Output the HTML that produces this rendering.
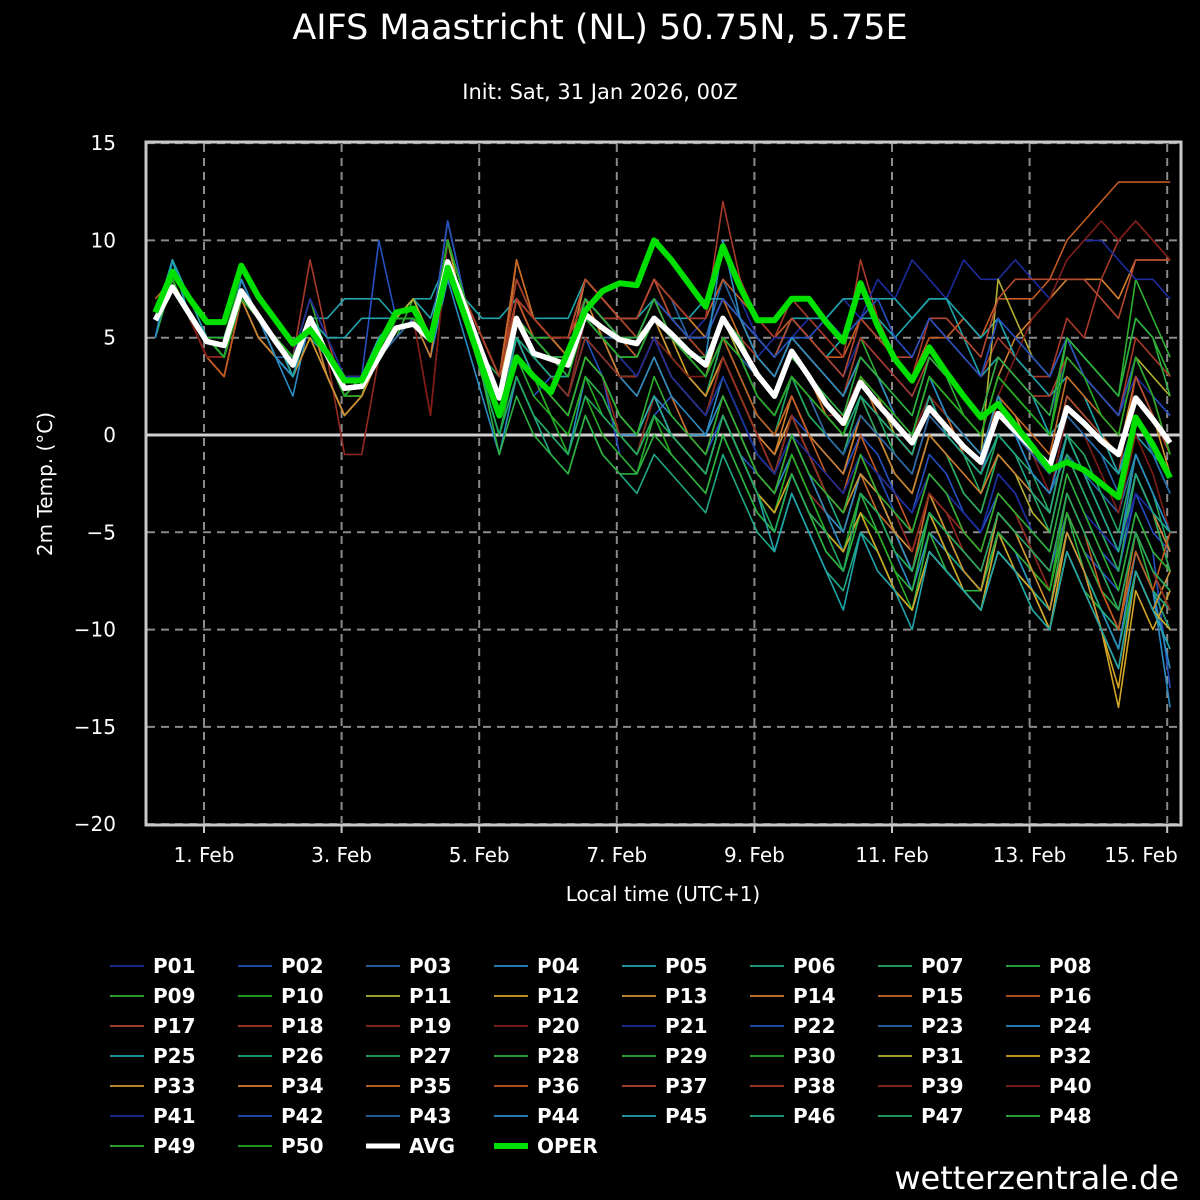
<!DOCTYPE html>
<html><head><meta charset="utf-8"><title>AIFS Maastricht</title>
<style>
html,body{margin:0;padding:0;background:#000;}
svg{display:block;font-family:"DejaVu Sans","Liberation Sans",sans-serif;}
</style></head>
<body>
<svg id="chart" width="1200" height="1200" viewBox="0 0 1200 1200" xmlns="http://www.w3.org/2000/svg">
<rect x="0" y="0" width="1200" height="1200" fill="#000"/>
<text x="600" y="39" text-anchor="middle" fill="#fff" font-size="35">AIFS Maastricht (NL) 50.75N, 5.75E</text>
<text x="600" y="99" text-anchor="middle" fill="#fff" font-size="21">Init: Sat, 31 Jan 2026, 00Z</text>
<g id="grid"></g>
<g id="series"></g>
<rect x="146" y="142" width="1035" height="683" fill="none" stroke="#c8c8c8" stroke-width="3"/>
<g id="axes"></g>
<text transform="translate(52,484) rotate(-90)" text-anchor="middle" fill="#fff" font-size="20">2m Temp. (°C)</text>
<text x="663" y="901" text-anchor="middle" fill="#fff" font-size="20">Local time (UTC+1)</text>
<g id="legend"></g>
<text x="1179" y="1189" text-anchor="end" fill="#fff" font-size="32">wetterzentrale.de</text>
</svg>
<script>
const yTicks=[15,10,5,0,-5,-10,-15,-20];
const xTickDays=[1,3,5,7,9,11,13,15];
const xTickLabels=["1. Feb","3. Feb","5. Feb","7. Feb","9. Feb","11. Feb","13. Feb","15. Feb"];
const stepHours=6;
const firstHourOffset=-17;
const avgValues=[5.9,7.6,6.2,4.8,4.6,7.4,6.1,4.8,3.6,6.0,4.1,2.4,2.5,4.0,5.5,5.7,4.9,8.9,6.6,4.2,1.9,6.0,4.2,3.9,3.6,6.2,5.5,4.9,4.7,6.0,5.2,4.3,3.6,6.0,4.6,3.1,2.0,4.3,3.0,1.6,0.6,2.7,1.6,0.6,-0.4,1.4,0.4,-0.6,-1.4,1.1,0.2,-0.7,-1.6,1.4,0.6,-0.3,-1.0,1.9,0.8,-0.4];
const operValues=[6.3,8.4,7.0,5.8,5.8,8.7,7.1,5.9,4.7,5.4,4.2,2.8,2.8,4.6,6.3,6.5,4.9,8.6,6.1,3.5,1.0,4.0,3.0,2.2,4.3,6.4,7.4,7.8,7.7,10.0,9.0,7.8,6.6,9.7,7.6,5.9,5.9,7.0,7.0,5.8,4.8,7.8,5.6,3.9,2.8,4.5,3.2,2.0,0.9,1.6,0.5,-0.6,-1.8,-1.4,-1.8,-2.5,-3.2,0.9,-0.5,-2.2];
const memberNames=["P01","P02","P03","P04","P05","P06","P07","P08","P09","P10","P11","P12","P13","P14","P15","P16","P17","P18","P19","P20","P21","P22","P23","P24","P25","P26","P27","P28","P29","P30","P31","P32","P33","P34","P35","P36","P37","P38","P39","P40","P41","P42","P43","P44","P45","P46","P47","P48","P49","P50"];
const memberValues=[
[5,8,6,4,4,7,5,4,3,6,4,2,2,5,6,6,4,9,6,3,1,5,4,3,3,7,6,6,5,7,6,5,6,8,7,5,4,6,5,4,3,5,4,3,2,4,3,2,1,4,3,2,1,4,3,2,1,3,2,1],
[6,9,6,5,5,8,6,5,4,6,4,3,3,5,6,6,5,10,6,3,0,4,2,3,2,5,3,-1,-2,1,2,0,-1,1,-1,-2,-3,0,-2,-3,-4,-1,-2,-4,-5,-2,-3,-4,-5,-3,-4,-6,-7,-4,-6,-7,-8,-4,-6,-13],
[6,9,6,5,4,8,6,4,4,7,5,3,3,4,5,6,5,10,7,4,2,7,5,5,4,8,7,6,6,8,7,5,5,8,6,4,3,5,4,3,2,4,3,1,0,2,0,-1,-2,0,-1,-2,-3,-1,-2,-3,-4,-1,-3,-5],
[5,9,6,5,4,7,6,4,2,6,3,1,2,4,5,6,4,8,5,2,-1,3,1,0,-1,3,2,0,0,2,1,0,0,2,0,-2,-3,-1,-3,-4,-6,-3,-4,-6,-8,-5,-6,-7,-8,-5,-6,-8,-10,-6,-8,-9,-11,-6,-8,-12],
[6,9,7,5,5,7,6,5,4,6,6,7,7,7,6,7,7,9,7,6,6,7,6,6,6,8,7,6,6,7,6,6,7,7,6,5,4,6,5,4,5,6,6,5,6,7,7,5,3,4,3,2,0,1,0,-1,-2,0,-1,-3],
[6,8,6,5,4,7,6,4,3,5,4,2,3,5,6,6,5,9,6,4,2,5,4,3,2,6,5,4,3,5,3,2,1,3,1,-1,-2,1,-1,-3,-5,-2,-3,-5,-7,-4,-6,-7,-8,-5,-7,-8,-9,-5,-7,-9,-10,-6,-8,-10],
[5,8,6,5,4,8,6,5,4,6,4,2,3,4,6,7,5,10,7,4,3,7,5,5,4,7,6,5,5,7,5,4,3,6,4,2,1,3,1,0,-1,2,1,-1,-2,1,0,-1,-3,0,-1,-2,-4,0,-1,-3,-5,-1,-3,-6],
[5,8,6,4,4,8,6,5,3,6,4,2,3,4,6,6,5,9,6,3,1,4,3,1,0,3,2,0,-1,2,0,-1,-2,1,-1,-3,-4,-1,-3,-5,-6,-3,-5,-7,-8,-4,-6,-8,-9,-5,-6,-8,-9,-4,-7,-9,-10,-5,-8,-9],
[6,8,6,5,5,8,6,5,4,7,4,2,3,4,5,7,5,9,6,4,2,5,4,4,3,6,5,5,5,7,6,5,5,7,6,4,3,5,4,3,2,5,3,2,1,4,3,1,0,3,2,1,0,5,4,3,2,8,6,4],
[6,8,6,5,4,7,5,4,3,6,4,2,2,4,6,6,5,9,6,3,1,4,3,1,-1,2,0,-1,-2,1,-1,-2,-3,0,-2,-4,-5,-2,-4,-6,-7,-4,-5,-7,-9,-6,-7,-8,-9,-6,-7,-9,-10,-6,-8,-9,-11,-7,-9,-10],
[6,8,6,5,5,7,6,5,4,6,4,2,3,5,6,6,5,10,6,4,2,6,5,4,4,7,6,5,4,6,4,3,2,5,3,1,0,2,0,-1,-2,1,0,-2,-3,0,-1,-3,-4,-1,-2,-4,-5,-1,-3,-5,-7,-2,-4,-7],
[6,8,6,4,4,7,5,4,3,5,3,1,2,4,6,6,5,10,7,5,3,7,6,5,5,8,7,6,5,7,5,3,2,4,2,0,-2,1,-1,-3,-4,-1,-3,-5,-7,-4,-6,-8,-9,-5,-7,-8,-10,-5,-7,-10,-14,-8,-10,-8],
[6,8,6,4,3,7,6,5,4,6,4,2,3,5,6,7,5,11,7,5,3,8,6,5,5,8,7,6,6,8,6,5,4,6,5,3,2,4,3,1,0,3,1,0,-1,2,1,0,-1,2,1,-1,-2,2,1,0,-1,3,1,-2],
[6,8,6,4,3,7,5,4,3,6,3,1,2,4,6,6,4,10,7,4,2,9,6,5,4,8,7,6,6,8,7,6,5,7,6,4,3,5,4,3,2,4,3,1,0,3,2,1,0,3,5,6,7,8,8,8,7,9,9,9],
[6,8,6,4,4,7,6,5,4,6,4,2,3,4,5,6,5,10,7,4,2,7,5,4,3,6,5,3,2,4,2,0,-1,2,0,-2,-3,0,-2,-4,-5,-2,-4,-5,-7,-3,-5,-6,-7,-4,-5,-7,-8,-4,-6,-8,-10,-5,-7,-9],
[7,8,6,4,3,7,6,5,4,6,4,2,3,5,6,7,5,10,7,5,3,7,6,5,5,7,6,6,6,8,7,6,6,8,7,6,5,6,5,4,4,6,5,4,3,5,5,6,5,7,7,7,8,10,11,12,13,13,13,13],
[6,8,6,4,4,7,6,5,4,7,5,3,3,5,6,7,5,10,7,5,3,7,5,4,4,7,6,5,5,7,5,4,3,5,4,2,1,3,2,0,-1,2,0,-1,-2,1,0,-1,-2,1,0,-1,-2,2,1,0,-2,3,1,-1],
[6,8,6,4,4,8,6,5,4,9,5,2,2,4,6,7,5,10,7,5,3,8,6,5,5,7,6,6,6,8,7,6,6,12,8,6,5,7,6,5,4,9,6,4,3,6,5,4,3,5,4,3,3,6,5,8,10,11,10,9],
[6,8,6,4,3,7,6,5,4,6,4,-1,-1,4,6,6,1,10,7,4,1,5,3,2,1,4,3,0,-1,2,0,-1,-2,1,-1,-3,-4,-1,-3,-4,-5,-2,-3,-5,-6,-3,-4,-6,-7,-4,-5,-6,-8,-4,-6,-8,-10,-6,-8,-9],
[6,8,6,5,4,7,6,5,4,6,4,2,3,5,6,6,5,9,6,3,1,5,4,3,2,6,5,4,4,6,5,4,3,6,5,3,2,4,3,1,0,3,2,0,-1,2,1,-1,-2,1,0,-1,-3,1,0,-2,-4,0,-2,-5],
[6,8,6,5,4,7,6,5,4,7,5,3,3,5,6,6,5,10,6,4,2,5,4,3,3,6,5,5,5,6,5,4,4,6,5,4,5,5,6,6,7,6,8,7,9,8,7,9,8,8,9,8,7,9,10,10,9,8,8,7],
[6,9,6,5,5,8,6,4,3,6,4,2,3,10,6,6,5,11,7,4,2,6,4,3,2,5,4,3,3,5,3,2,1,4,2,0,-1,1,0,-1,-2,0,-1,-3,-4,-1,-2,-4,-5,-2,-3,-5,-6,-2,-4,-6,-7,-3,-5,-6],
[6,9,6,5,4,7,6,5,3,6,4,2,3,4,5,6,5,10,7,4,2,6,5,4,3,6,5,5,4,6,5,4,3,5,4,3,2,4,3,2,1,3,2,1,0,3,1,0,-1,1,0,-2,-3,-1,-3,-5,-6,-2,-4,-6],
[5,9,6,5,4,8,6,4,3,6,4,2,3,5,6,6,5,10,7,4,2,6,5,4,3,6,5,3,2,4,2,1,0,3,1,-1,-2,0,-2,-4,-5,-2,-3,-5,-7,-4,-5,-7,-8,-5,-6,-8,-9,-5,-7,-9,-11,-6,-8,-14],
[6,9,7,5,5,7,6,5,4,6,5,5,6,6,6,7,6,9,7,5,3,6,5,4,4,7,6,5,5,7,6,5,5,7,6,5,4,6,6,6,7,7,7,7,6,7,7,6,5,6,4,3,2,3,2,0,-2,1,-1,-2],
[6,8,6,5,4,7,6,5,4,6,4,2,3,4,6,6,5,9,6,3,0,3,1,-1,-2,1,-1,-2,-3,-1,-2,-3,-4,-1,-3,-5,-6,-3,-5,-7,-8,-5,-6,-8,-9,-6,-7,-8,-9,-6,-7,-8,-9,-5,-7,-9,-10,-6,-8,-9],
[6,8,6,5,4,8,6,5,3,6,4,2,3,4,6,6,5,10,6,4,2,5,4,3,2,5,4,3,3,5,4,3,2,5,3,1,0,3,1,0,-1,2,0,-2,-3,0,-1,-3,-4,-1,-2,-3,-5,-1,-3,-5,-7,-2,-4,-7],
[6,8,6,5,4,7,6,4,3,6,4,2,3,4,6,6,5,10,6,3,-1,2,0,-1,-2,1,-1,-2,-2,0,-1,-2,-3,0,-2,-4,-5,-2,-4,-6,-7,-4,-6,-8,-9,-5,-7,-8,-8,-5,-6,-7,-8,-4,-6,-8,-9,-5,-7,-9],
[6,8,6,5,5,8,6,5,4,6,4,2,3,5,6,6,5,10,7,5,3,6,5,5,4,7,6,5,5,7,6,5,4,6,5,3,2,4,3,2,1,3,2,1,0,3,2,1,0,3,2,1,0,5,4,3,2,6,5,3],
[6,8,6,5,4,7,6,5,3,6,4,2,2,5,6,6,5,9,6,3,0,4,2,1,0,3,1,0,-1,1,0,-1,-2,1,-1,-3,-4,-1,-3,-5,-6,-3,-4,-6,-7,-4,-5,-7,-8,-4,-5,-7,-8,-3,-5,-7,-9,-5,-7,-8],
[6,8,6,5,4,7,6,4,3,6,4,2,3,4,6,7,5,10,7,5,3,7,6,5,4,7,6,5,5,6,5,4,3,6,4,2,1,3,2,1,0,3,2,0,-1,2,1,0,-1,8,6,4,3,5,3,2,1,4,3,2],
[6,8,6,5,4,7,6,5,3,6,4,2,3,4,6,6,5,10,6,4,1,5,3,2,1,4,3,1,0,2,0,-1,-2,1,-1,-3,-4,-2,-4,-5,-6,-4,-6,-8,-9,-6,-7,-8,-9,-6,-7,-8,-10,-6,-8,-10,-13,-7,-9,-10],
[6,8,6,5,4,7,6,4,3,5,3,1,2,4,6,6,5,10,7,5,3,6,5,4,3,6,5,4,4,6,4,3,2,4,2,0,-1,1,-1,-3,-4,-2,-3,-5,-6,-3,-5,-7,-8,-4,-5,-7,-9,-5,-7,-10,-12,-7,-9,-7],
[6,8,6,5,4,7,6,5,4,6,4,2,3,5,6,6,5,10,7,4,2,6,5,4,4,7,5,3,3,5,3,2,1,4,2,0,-1,2,0,-1,-2,1,0,-2,-3,0,-1,-2,-3,-1,-2,-3,-4,0,-2,-4,-6,-2,-4,-6],
[6,8,6,5,4,7,6,5,4,6,4,2,3,4,6,6,5,10,7,5,3,9,6,5,4,7,6,5,5,7,6,5,5,7,5,3,2,4,3,1,0,3,1,0,-1,2,1,-1,-2,2,1,0,-1,3,2,1,0,4,2,-1],
[6,8,6,4,3,7,6,5,4,6,4,2,3,4,6,6,5,10,7,5,3,7,5,4,4,7,6,5,4,6,5,4,3,5,3,1,0,2,0,-2,-3,0,-2,-3,-5,-2,-3,-5,-6,-3,-4,-6,-7,-3,-5,-8,-10,-6,-8,-5],
[6,8,6,4,4,7,6,5,4,6,4,2,3,5,6,6,5,10,7,5,3,7,6,5,5,8,7,6,6,8,6,5,5,7,6,5,4,6,5,4,3,6,5,4,4,6,6,5,4,7,8,8,8,8,8,7,6,9,9,9],
[6,8,6,4,4,7,6,5,4,6,4,2,3,4,6,6,5,10,7,5,3,7,6,5,5,7,6,6,5,7,6,5,4,6,5,4,3,5,4,3,2,5,4,3,2,4,3,2,1,4,3,2,2,4,3,2,1,5,4,3],
[6,8,6,4,4,7,6,5,4,6,4,2,3,4,6,6,5,10,7,4,2,6,4,3,2,5,4,3,3,5,3,2,1,4,2,0,-2,1,-1,-3,-4,-1,-3,-4,-6,-3,-4,-5,-6,-3,-4,-6,-7,-3,-5,-7,-9,-5,-7,-9],
[6,8,6,4,4,7,6,5,4,6,4,2,3,4,6,6,1,10,7,4,2,6,5,4,3,6,5,4,3,5,4,3,3,5,4,2,1,3,2,1,1,3,2,1,0,2,1,0,-1,2,4,6,7,9,10,11,10,11,10,9],
[6,9,6,5,4,7,6,4,3,6,4,2,3,5,6,6,5,10,7,4,2,6,5,4,3,6,5,4,3,5,3,2,1,3,1,-1,-2,0,-1,-2,-3,-1,-2,-3,-4,-2,-3,-4,-5,-2,-3,-5,-6,-2,-4,-5,-6,-3,-4,-5],
[6,9,6,5,4,8,6,5,4,6,4,2,3,5,6,6,5,11,7,4,2,6,5,4,4,7,6,5,5,7,6,5,5,7,6,5,4,5,5,6,5,6,7,5,4,6,5,4,3,6,5,4,3,5,3,2,1,4,2,1],
[6,9,6,5,4,7,6,4,3,6,4,2,3,5,6,6,5,10,7,4,2,6,5,4,3,6,5,4,4,6,5,4,3,5,4,2,1,3,2,0,-1,1,0,-1,-2,1,0,-1,-2,1,0,-1,-2,1,0,-1,-3,1,-1,-3],
[5,9,6,5,4,8,6,4,3,6,4,2,3,4,6,6,5,10,7,4,2,6,5,4,3,6,5,4,4,6,5,4,4,10,6,4,3,5,4,3,2,4,3,1,0,3,1,0,-1,2,0,-2,-3,0,-2,-4,-6,-1,-3,-5],
[6,9,6,5,4,7,6,5,3,6,4,2,3,5,6,6,5,10,7,4,1,5,3,2,1,4,3,1,0,2,0,-1,-2,1,-1,-3,-6,-3,-5,-7,-9,-5,-7,-8,-10,-6,-7,-8,-9,-6,-7,-9,-10,-6,-8,-10,-12,-7,-9,-11],
[6,8,6,5,4,7,6,5,4,6,4,2,3,4,6,6,5,10,7,4,2,5,4,3,3,6,5,4,4,6,5,4,3,5,4,2,1,3,2,1,0,2,1,0,-1,2,0,-1,-2,0,-1,-3,-4,0,-2,-4,-6,-2,-4,-5],
[6,8,6,5,4,7,6,5,4,6,4,2,3,4,6,6,5,9,6,3,0,3,1,0,-1,2,1,0,-1,1,0,-1,-2,1,-1,-3,-5,-2,-4,-5,-7,-3,-4,-6,-7,-4,-5,-6,-7,-4,-5,-6,-7,-3,-5,-7,-9,-5,-7,-8],
[6,8,6,5,4,7,6,5,4,6,4,2,3,4,6,6,5,10,7,4,2,6,5,4,4,7,6,5,5,7,5,4,4,6,5,3,2,4,3,2,1,4,3,2,1,4,3,2,1,4,3,2,1,5,4,3,2,6,5,2],
[6,8,6,5,4,7,6,5,4,6,4,2,3,4,6,6,5,9,6,3,1,4,3,2,1,4,3,1,0,3,1,0,-1,2,0,-2,-3,0,-2,-3,-4,-1,-3,-4,-5,-2,-3,-5,-6,-3,-4,-5,-6,-2,-4,-6,-8,-4,-6,-7],
[6,8,6,5,4,7,6,5,4,6,4,2,3,4,6,6,5,10,7,4,2,6,5,4,3,6,5,4,4,6,5,4,3,5,4,2,1,3,2,1,0,3,2,1,0,3,2,1,0,3,2,1,0,4,3,1,0,4,2,-1]
];
const palette=["#1c2c9c","#2450c0","#2668ac","#2a8cc4","#1fa4ac","#1ea884","#22a860","#2cb040","#2eb030","#26ac22","#b4b032","#d2a424","#d09232","#d27e2e","#c86a26","#c25a22","#b44832","#a83a2a","#922a20","#801c16"];

const NS="http://www.w3.org/2000/svg";
const X1FEB=204, PXDAY=68.8, Y0=435, PXDEG=19.457;
function xOfHour(h){return X1FEB+h/24*PXDAY;}
function xOfIndex(i){return xOfHour(firstHourOffset+i*stepHours);}
function yOf(t){return Y0-t*PXDEG;}
function mk(tag,attrs,parent){const e=document.createElementNS(NS,tag);for(const k in attrs)e.setAttribute(k,attrs[k]);parent.appendChild(e);return e;}

const grid=document.getElementById('grid');
const axes=document.getElementById('axes');
yTicks.forEach(t=>{
  const y=yOf(t);
  const gl=mk('line',{x1:147,x2:1180,y1:y,y2:y,stroke:'#8a8a8a','stroke-width':2,'stroke-dasharray':'8,6'},grid);
  
  
  const lb=mk('text',{x:116,y:y+7,'text-anchor':'end',fill:'#fff','font-size':20},axes);
  lb.textContent=(t<0?'\u2212'+Math.abs(t):String(t));
  
  
});
const zl=mk('line',{x1:147,x2:1180,y1:yOf(0),y2:yOf(0),stroke:'#cfcfcf','stroke-width':3},grid);


xTickDays.forEach((d,k)=>{
  const x=xOfHour((d-1)*24);
  const gl=mk('line',{x1:x,x2:x,y1:144,y2:823,stroke:'#8a8a8a','stroke-width':2,'stroke-dasharray':'8,6'},grid);
  
  
  const tk=mk('line',{x1:x,x2:x,y1:825,y2:833,stroke:'#c8c8c8','stroke-width':2},axes);
  
  
  const lb=mk('text',{x:Math.min(x,1141),y:862,'text-anchor':'middle',fill:'#fff','font-size':20},axes);
  lb.textContent=xTickLabels[k];
  
  
});

const series=document.getElementById('series');
function pts(arr){return arr.map((v,i)=>xOfIndex(i).toFixed(1)+','+yOf(v).toFixed(1)).join(' ');}
memberValues.forEach((arr,m)=>{
  const pl=mk('polyline',{points:pts(arr),fill:'none',stroke:palette[m%20],'stroke-width':1.6,'stroke-linejoin':'round'},series);
  
  
});
const avgLine=mk('polyline',{points:pts(avgValues),fill:'none',stroke:'#ffffff','stroke-width':5.5,'stroke-linejoin':'round'},series);


const operLine=mk('polyline',{points:pts(operValues),fill:'none',stroke:'#00e000','stroke-width':6,'stroke-linejoin':'round'},series);



const legend=document.getElementById('legend');
const legendItems=memberNames.map((n,m)=>({name:n,color:palette[m%20],w:1.8}));
legendItems.push({name:'AVG',color:'#ffffff',w:5});
legendItems.push({name:'OPER',color:'#00e000',w:6});
legendItems.forEach((it,k)=>{
  const col=k%8,row=Math.floor(k/8);
  const x=110+col*128,y=966+row*30;
  const g=mk('g',{},legend);
  
  
  mk('line',{x1:x,x2:x+34,y1:y,y2:y,stroke:it.color,'stroke-width':it.w},g);
  const t=mk('text',{x:x+43,y:y+7,fill:'#fff','font-size':20,'font-weight':'bold'},g);
  t.textContent=it.name;
});
</script>
</body></html>
